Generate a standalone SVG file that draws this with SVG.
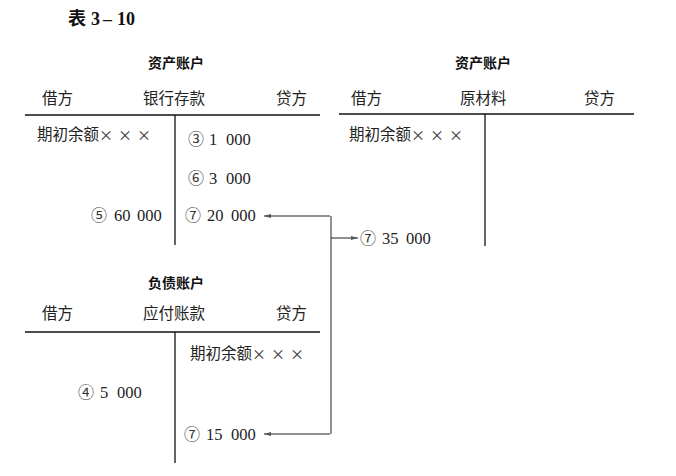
<svg xmlns="http://www.w3.org/2000/svg" width="676" height="476" viewBox="0 0 676 476">
<style>
.t{font-family:"Liberation Serif","Noto Sans CJK SC",serif;font-size:15.5px;fill:#222}
.n{font-family:"Liberation Serif","Noto Sans CJK SC",serif;font-size:16.5px;fill:#222}
.c{font-family:"Noto Sans CJK SC",sans-serif;font-size:16px;fill:#333}
.x{font-family:"Noto Sans CJK SC",sans-serif;font-size:14px;fill:#333}
.h{font-family:"Noto Sans CJK SC",sans-serif;font-size:14px;font-weight:bold;fill:#111}
.m{text-anchor:middle}
.ln{stroke:#111;stroke-width:1.3;fill:none}
.cn{stroke:#222;stroke-width:1;fill:none}
</style>
<defs>
<marker id="ah" markerWidth="8" markerHeight="6" refX="7" refY="3" orient="auto" markerUnits="userSpaceOnUse">
<path d="M0,1 L7,3 L0,5 Z" fill="#555"/>
</marker>
</defs>
<rect width="676" height="476" fill="#fff"/>
<text x="68" y="25" style="font-family:'Liberation Serif','Noto Sans CJK SC',serif;font-size:18px;font-weight:bold" fill="#111">表<tspan x="91">3</tspan><tspan x="101" style="font-size:13px">－</tspan><tspan x="117">10</tspan></text>

<g id="bank">
<text class="h m" x="176" y="68">资产账户</text>
<text class="t" x="42" y="104">借方</text>
<text class="t" x="143" y="104">银行存款</text>
<text class="t" x="276" y="104">贷方</text>
<line class="ln" x1="25" y1="115" x2="320" y2="115"/>
<line class="ln" x1="175" y1="115" x2="175" y2="245"/>
<text class="t" x="37" y="140">期初余额<tspan class="x" x="99">×</tspan><tspan class="x" x="118">×</tspan><tspan class="x" x="137">×</tspan></text>
<text class="n" y="145"><tspan class="c" x="188">③</tspan><tspan x="209">1</tspan><tspan x="226">000</tspan></text>
<text class="n" y="184"><tspan class="c" x="188">⑥</tspan><tspan x="209">3</tspan><tspan x="226">000</tspan></text>
<text class="n" y="221"><tspan class="c" x="91">⑤</tspan><tspan x="114">60</tspan><tspan x="137">000</tspan></text>
<text class="n" y="221"><tspan class="c" x="185">⑦</tspan><tspan x="207">20</tspan><tspan x="231">000</tspan></text>
</g>

<g id="material">
<text class="h m" x="483" y="68">资产账户</text>
<text class="t" x="351" y="104">借方</text>
<text class="t" x="460" y="104">原材料</text>
<text class="t" x="584" y="104">贷方</text>
<line class="ln" x1="339" y1="114" x2="634" y2="114"/>
<line class="ln" x1="485" y1="114" x2="485" y2="246"/>
<text class="t" x="349" y="140">期初余额<tspan class="x" x="411">×</tspan><tspan class="x" x="430">×</tspan><tspan class="x" x="449">×</tspan></text>
<text class="n" y="244"><tspan class="c" x="360">⑦</tspan><tspan x="382">35</tspan><tspan x="406">000</tspan></text>
</g>

<g id="payable">
<text class="h m" x="176" y="288">负债账户</text>
<text class="t" x="42" y="319">借方</text>
<text class="t" x="143" y="319">应付账款</text>
<text class="t" x="276" y="319">贷方</text>
<line class="ln" x1="25" y1="332" x2="320" y2="332"/>
<line class="ln" x1="175" y1="332" x2="175" y2="463"/>
<text class="t" x="190" y="359">期初余额<tspan class="x" x="252">×</tspan><tspan class="x" x="271">×</tspan><tspan class="x" x="290">×</tspan></text>
<text class="n" y="398"><tspan class="c" x="78">④</tspan><tspan x="100">5</tspan><tspan x="117">000</tspan></text>
<text class="n" y="440"><tspan class="c" x="184">⑦</tspan><tspan x="206">15</tspan><tspan x="231">000</tspan></text>
</g>

<g id="connectors">
<line class="cn" x1="331" y1="216" x2="331" y2="434"/>
<line class="cn" x1="330" y1="216" x2="264" y2="216" marker-end="url(#ah)"/>
<line class="cn" x1="330" y1="434" x2="264" y2="434" marker-end="url(#ah)"/>
<line class="cn" x1="331" y1="238" x2="358" y2="238" marker-end="url(#ah)"/>
</g>
</svg>
